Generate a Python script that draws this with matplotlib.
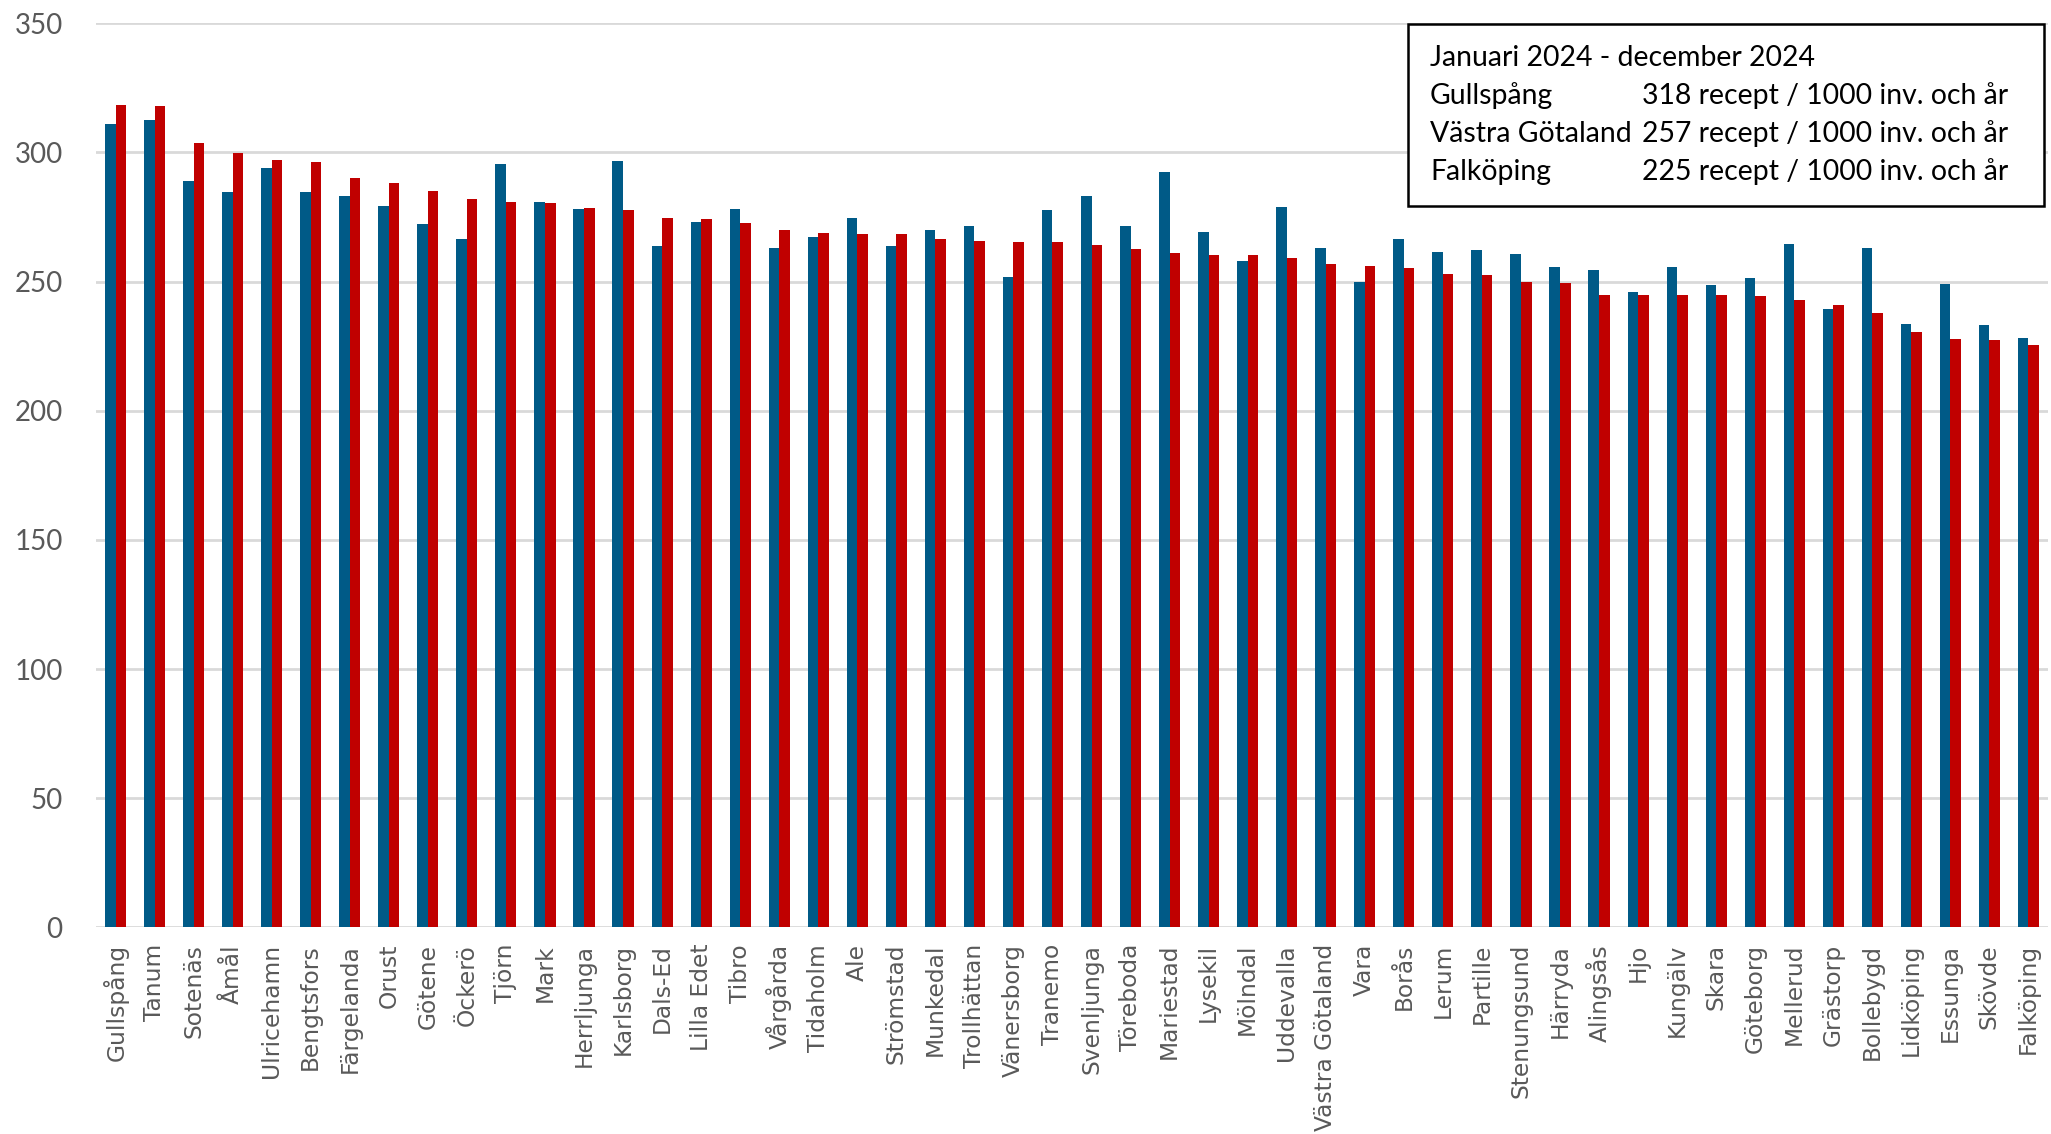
import matplotlib
matplotlib.use("Agg")
import matplotlib.pyplot as plt
import numpy as np
from matplotlib.patches import Rectangle

municipalities = [
    "Gullspång", "Tanum", "Sotenäs", "Åmål", "Ulricehamn", "Bengtsfors", "Färgelanda",
    "Orust", "Götene", "Öckerö", "Tjörn", "Mark", "Herrljunga", "Karlsborg", "Dals-Ed",
    "Lilla Edet", "Tibro", "Vårgårda", "Tidaholm", "Ale", "Strömstad", "Munkedal",
    "Trollhättan", "Vänersborg", "Tranemo", "Svenljunga", "Töreboda", "Mariestad",
    "Lysekil", "Mölndal", "Uddevalla", "Västra Götaland", "Vara", "Borås", "Lerum",
    "Partille", "Stenungsund", "Härryda", "Alingsås", "Hjo", "Kungälv", "Skara",
    "Göteborg", "Mellerud", "Grästorp", "Bollebygd", "Lidköping", "Essunga", "Skövde",
    "Falköping",
]

values_prev = [
    311.0, 312.6, 288.8, 284.7, 294.1, 284.7, 283.0, 279.4, 272.4, 266.6,
    295.7, 280.9, 278.2, 296.8, 263.9, 272.9, 278.2, 262.9, 267.1, 274.5,
    263.9, 269.8, 271.4, 251.9, 277.7, 283.0, 271.4, 292.5, 269.3, 258.1,
    278.7, 262.9, 249.7, 266.6, 261.3, 262.4, 260.8, 255.5, 254.5, 246.1,
    255.5, 248.7, 251.2, 264.4, 239.3, 262.9, 233.5, 249.2, 233.0, 228.2,
]

values_2024 = [
    318.4, 318.0, 303.6, 299.6, 296.9, 296.4, 290.0, 288.0, 285.0, 282.0,
    281.0, 280.5, 278.4, 277.8, 274.7, 274.2, 272.6, 270.0, 269.0, 268.4,
    268.4, 266.3, 265.8, 265.2, 265.2, 264.0, 262.6, 261.0, 260.4, 260.4,
    259.0, 257.0, 256.2, 255.2, 253.0, 252.5, 250.0, 249.4, 245.0, 245.0,
    245.0, 245.0, 244.5, 243.0, 240.9, 237.7, 230.6, 227.8, 227.3, 225.5,
]

y_ticks = [0, 50, 100, 150, 200, 250, 300, 350]

legend_title = "Januari 2024 - december 2024"
legend_names = ["Gullspång", "Västra Götaland", "Falköping"]
legend_values = [318, 257, 225]
legend_unit = "recept / 1000 inv. och år"

W, H = 2051, 1134
fig = plt.figure(figsize=(W / 100, H / 100), dpi=100)
ax = fig.add_axes([96 / W, 1 - 927.3 / H, (2048 - 96) / W, (927.3 - 23.3) / H])

x = np.arange(len(municipalities))
w = 0.27
ax.bar(x - w / 2, values_prev, w, color="#005A87", zorder=3)
ax.bar(x + w / 2, values_2024, w, color="#C00000", zorder=3)

ax.set_xlim(-0.5, len(municipalities) - 0.5)
ax.set_ylim(0, 350)
ax.set_yticks(y_ticks)
ax.yaxis.grid(True, color="#D9D9D9", linewidth=2.0)
ax.set_axisbelow(True)
for s in ax.spines.values():
    s.set_visible(False)
ax.tick_params(length=0)
ax.tick_params(axis="y", pad=24)
ax.tick_params(axis="x", pad=12)
ax.set_xticks(x)
ax.set_xticklabels(municipalities, rotation=90, fontsize=16.8, color="#595959",
                   family="DejaVu Sans")
for lab in ax.get_yticklabels():
    lab.set_fontsize(20)
    lab.set_family("Lato")
    lab.set_color("#595959")

# info box
box = Rectangle((1408 / W, 1 - 206 / H), (2044 - 1408) / W, (206 - 24) / H,
                transform=fig.transFigure, facecolor="white", edgecolor="black",
                linewidth=1.8, zorder=5)
fig.add_artist(box)

fs = 20
t0 = fig.text(1430 / W, 1 - 58 / H, legend_title, fontsize=fs, family="Lato",
              va="center", ha="left", color="black", zorder=6)
fig.canvas.draw()
r = fig.canvas.get_renderer()
wid = t0.get_window_extent(r).width
fs = fs * 385 / wid
t0.set_fontsize(fs)

ys = [96, 134, 172]
for name, val, yy in zip(legend_names, legend_values, ys):
    fig.text(1430 / W, 1 - yy / H, name, fontsize=fs, family="Lato",
             va="center", ha="left", color="black", zorder=6)
    fig.text(1642 / W, 1 - yy / H, f"{val} {legend_unit}", fontsize=fs, family="Lato",
             va="center", ha="left", color="black", zorder=6)

fig.savefig("out.png", dpi=100, facecolor="white")
